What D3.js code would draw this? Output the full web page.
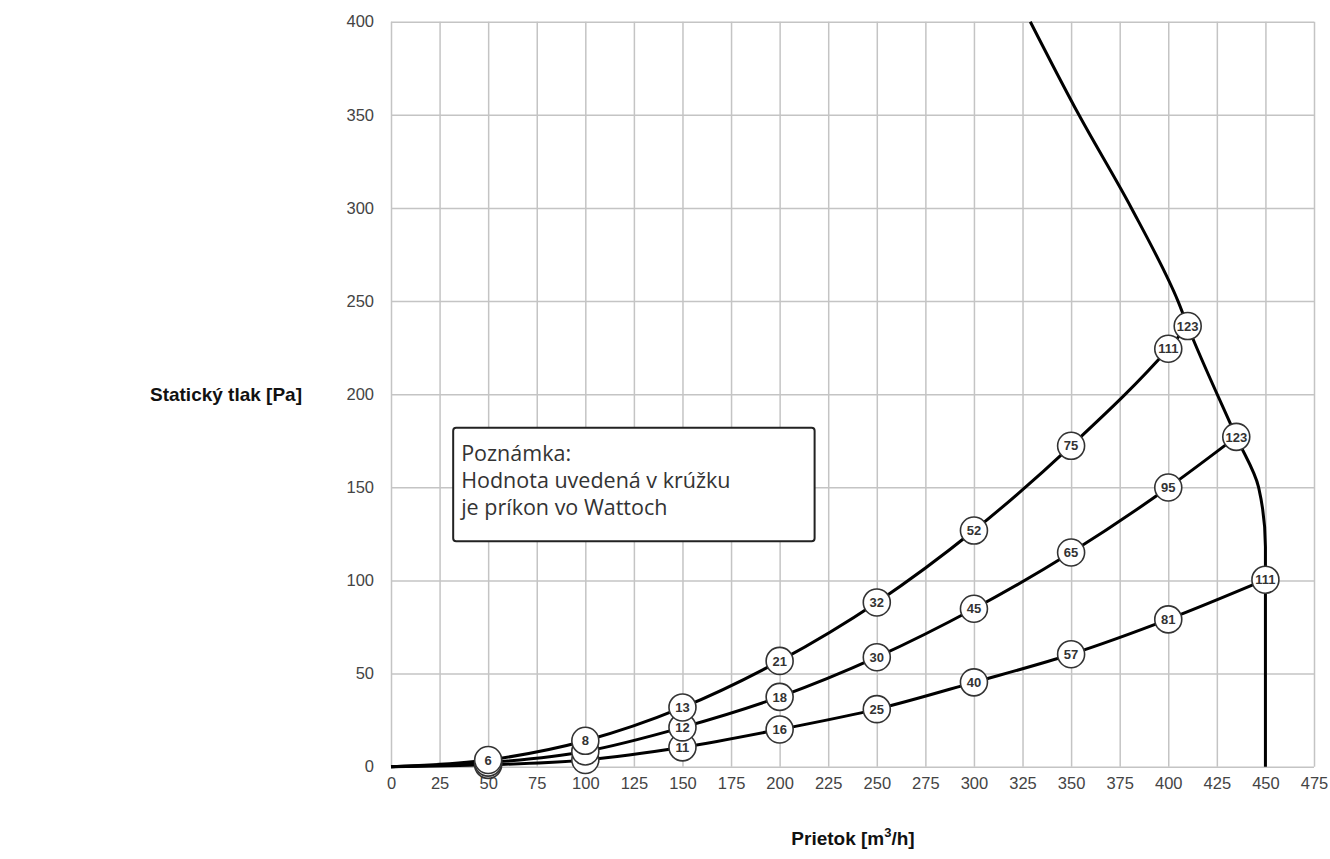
<!DOCTYPE html>
<html>
<head>
<meta charset="utf-8">
<script src="https://cdn.jsdelivr.net/npm/d3@7"></script>
<style>
  html, body { margin: 0; padding: 0; background: #fff; }
  svg { display: block; }
</style>
</head>
<body>
<svg id="chart" width="1330" height="859"></svg>
<script>
// ---------------- data ----------------
const xTickValues = [0, 25, 50, 75, 100, 125, 150, 175, 200, 225, 250, 275, 300, 325, 350, 375, 400, 425, 450, 475];
const yTickValues = [0, 50, 100, 150, 200, 250, 300, 350, 400];

// upper operating curve
const highFlow   = [0, 50, 100, 150, 200, 250, 300, 350, 400, 410];
const highPress  = [0, 3.6, 13.9, 31.8, 56.8, 88.2, 126.8, 172.3, 224.4, 236.6];
const highWatts  = [null, "6", "8", "13", "21", "32", "52", "75", "111", "123"];

// middle operating curve
const midFlow    = [0, 50, 100, 150, 200, 250, 300, 350, 400, 435];
const midPress   = [0, 2.2, 8.2, 21.1, 37.5, 58.8, 84.8, 115.0, 149.9, 177.1];
const midWatts   = [null, null, null, "12", "18", "30", "45", "65", "95", "123"];

// lower operating curve
const lowFlow    = [0, 50, 100, 150, 200, 250, 300, 350, 400, 450];
const lowPress   = [0, 1.0, 3.6, 10.4, 20.0, 30.9, 45.3, 60.4, 79.1, 100.4];
const lowWatts   = [null, null, null, "11", "16", "25", "40", "57", "81", "111"];

// maximum (limit) curve
const maxFlow    = [450, 450, 450, 446.5, 435, 410, 405, 381, 354, 329];
const maxPress   = [0, 100.4, 118, 150, 177.1, 236.6, 250, 300, 350, 400];

const noteLines = ["Poznámka:", "Hodnota uvedená v krúžku", "je príkon vo Wattoch"];
const yTitle = "Statický tlak [Pa]";

// ---------------- layout ----------------
const svg = d3.select("#chart");
const x = d3.scaleLinear().domain([0, 475]).range([391, 1314]);
const y = d3.scaleLinear().domain([0, 400]).range([766.7, 21.7]);

const gridColor = "#c4c4c4";
const tickFont = "Arial, 'Liberation Sans', sans-serif";

// vertical grid
const gx = svg.append("g")
  .attr("transform", `translate(0,${y(0)})`)
  .call(d3.axisBottom(x).tickValues(xTickValues).tickSize(-(y(0) - y(400))).tickPadding(11).tickFormat(d3.format("d")));
gx.select(".domain").remove();
gx.selectAll(".tick line").attr("stroke", gridColor).attr("stroke-width", 1.5);
gx.selectAll(".tick text").attr("fill", "#444").attr("font-family", tickFont).attr("font-size", 16.5);

// horizontal grid
const gy = svg.append("g")
  .attr("transform", `translate(${x(0)},0)`)
  .call(d3.axisLeft(y).tickValues(yTickValues).tickSize(-(x(475) - x(0))).tickPadding(17).tickFormat(d3.format("d")));
gy.select(".domain").remove();
gy.selectAll(".tick line").attr("stroke", gridColor).attr("stroke-width", 1.5);
gy.selectAll(".tick text").attr("fill", "#444").attr("font-family", tickFont).attr("font-size", 16.5);

// axis titles
svg.append("text")
  .attr("x", 226).attr("y", 401)
  .attr("text-anchor", "middle")
  .attr("font-family", tickFont)
  .attr("font-weight", "bold").attr("font-size", 19).attr("fill", "#111")
  .text(yTitle);

const xt = svg.append("text")
  .attr("x", 853).attr("y", 845)
  .attr("text-anchor", "middle")
  .attr("font-family", tickFont)
  .attr("font-weight", "bold").attr("font-size", 19).attr("fill", "#111");
xt.append("tspan").text("Prietok [m");
xt.append("tspan").attr("font-size", 13).attr("dy", -8).text("3");
xt.append("tspan").attr("dy", 8).text("/h]");

// note box
const noteBox = { x0: 32, x1: 218, y0: 121, y1: 182 };
svg.append("rect")
  .attr("x", x(noteBox.x0)).attr("y", y(noteBox.y1))
  .attr("width", x(noteBox.x1) - x(noteBox.x0)).attr("height", y(noteBox.y0) - y(noteBox.y1))
  .attr("rx", 3).attr("fill", "#fff").attr("stroke", "#222").attr("stroke-width", 2);
const noteText = svg.append("text")
  .attr("font-family", "'Open Sans', sans-serif")
  .attr("font-size", 21.5).attr("fill", "#333");
noteText.selectAll("tspan").data(noteLines).join("tspan")
  .attr("x", x(noteBox.x0) + 8)
  .attr("y", (d, i) => y(noteBox.y1) + 33 + i * 27)
  .text(d => d);

// series
const series = [
  { flow: lowFlow, press: lowPress, watts: lowWatts },
  { flow: midFlow, press: midPress, watts: midWatts },
  { flow: highFlow, press: highPress, watts: highWatts }
].map(s => ({ pts: s.flow.map((f, i) => ({ f, p: s.press[i], w: s.watts[i] })) }));

const line = d3.line().x(d => x(d.f)).y(d => y(d.p)).curve(d3.curveMonotoneX);

const maxPts = maxFlow.map((f, i) => ({ f, p: maxPress[i] }));
svg.append("path")
  .attr("d", d3.line().x(d => x(d.f)).y(d => y(d.p)).curve(d3.curveMonotoneY)(maxPts))
  .attr("fill", "none").attr("stroke", "#000").attr("stroke-width", 3);

series.forEach(s => {
  svg.append("path")
    .attr("d", line(s.pts))
    .attr("fill", "none").attr("stroke", "#000").attr("stroke-width", 3);
});

series.forEach(s => {
  const g = svg.append("g");
  const pts = s.pts.filter(d => d.f > 0);
  const nodes = g.selectAll("g").data(pts).join("g")
    .attr("transform", d => `translate(${x(d.f)},${y(d.p)})`);
  nodes.append("circle").attr("r", 13.5).attr("fill", "#fff").attr("stroke", "#333").attr("stroke-width", 1.6);
  nodes.filter(d => d.w).append("text")
    .attr("text-anchor", "middle").attr("dy", "0.36em")
    .attr("font-family", tickFont)
    .attr("font-weight", "bold").attr("font-size", 13).attr("fill", "#333")
    .text(d => d.w);
});
</script>
</body>
</html>
